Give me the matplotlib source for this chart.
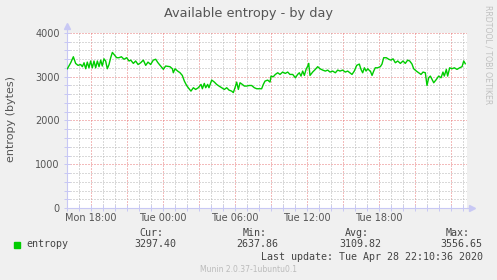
import matplotlib
matplotlib.use("Agg")
import matplotlib.pyplot as plt
from matplotlib.patches import Rectangle
from matplotlib.ticker import MultipleLocator

# hours counted from Mon 00:00, entropy in bytes
hours = [
    16.03, 16.31, 16.53, 16.72, 16.92, 17.14, 17.28, 17.42, 17.56, 17.69,
    17.83, 17.97, 18.11, 18.25, 18.39, 18.53, 18.67, 18.81, 18.94, 19.08,
    19.22, 19.36, 19.50, 19.64, 19.78, 19.92, 20.14, 20.33, 20.53, 20.75,
    20.97, 21.17, 21.31, 21.53, 21.72, 21.92, 22.14, 22.36, 22.56, 22.75,
    22.97, 23.19, 23.39, 23.58, 23.81, 24.03, 24.22,
    24.58, 24.78, 24.86, 25.00, 25.22, 25.42, 25.61, 25.78, 25.97, 26.17,
    26.33, 26.53, 26.72, 26.94, 27.17, 27.28, 27.44, 27.56, 27.72, 27.83,
    28.06, 28.28, 28.47, 28.67, 28.89, 29.11, 29.31, 29.50, 29.72, 29.86,
    30.00, 30.14, 30.28, 30.42, 30.61, 30.78, 30.97, 31.17, 31.39, 31.61,
    31.81, 32.00, 32.22, 32.36, 32.50, 32.72, 32.92,
    33.00, 33.19, 33.36, 33.56, 33.75, 33.97, 34.19, 34.39, 34.58, 34.81,
    35.03, 35.22, 35.36, 35.50, 35.64, 35.78, 35.92, 36.06, 36.14, 36.25,
    36.47, 36.69, 36.89, 37.08, 37.31, 37.53, 37.72, 37.92, 38.14, 38.36,
    38.56, 38.75, 38.97, 39.19, 39.39, 39.58, 39.75, 39.94, 40.14, 40.36,
    40.50, 40.64, 40.78, 40.92, 41.06, 41.25,
    41.28, 41.42, 41.56, 41.69, 41.89, 42.11, 42.25, 42.39, 42.61, 42.81,
    43.00, 43.17, 43.36, 43.56, 43.78, 44.00, 44.19, 44.39, 44.56, 44.75,
    44.89, 45.11, 45.31, 45.50, 45.67, 45.86, 46.00, 46.14, 46.28, 46.42,
    46.56, 46.78, 46.97, 47.17, 47.33, 47.44, 47.61, 47.72, 47.89, 48.08,
    48.28, 48.50, 48.72, 48.92, 49.06, 49.19,
]
entropy = [
    3183, 3320, 3457, 3305, 3260, 3280, 3230, 3320, 3183, 3335,
    3205, 3360, 3205, 3360, 3205, 3360, 3230, 3380, 3245, 3410,
    3360, 3183, 3280, 3435, 3556, 3510, 3435, 3435, 3457, 3400,
    3435, 3360, 3380, 3305, 3360, 3280, 3320, 3380, 3260, 3335,
    3280, 3380, 3400, 3320, 3245, 3170, 3245,
    3230, 3183, 3091, 3183, 3130, 3091, 3030, 2900, 2800, 2726,
    2672, 2749, 2710, 2749, 2825, 2726, 2848, 2749, 2825, 2749,
    2924, 2878, 2825, 2787, 2749, 2710, 2749, 2695, 2672, 2638,
    2749, 2878, 2710, 2863, 2825, 2787, 2787, 2800, 2800, 2749,
    2726, 2726, 2726, 2825, 2900, 2924, 2878,
    3015, 3000, 3053, 3091, 3053, 3107, 3076, 3107, 3053, 3053,
    2977, 3053, 3091, 3015, 3130, 3030, 3168, 3244, 3305, 3030,
    3107, 3168, 3230, 3183, 3152, 3130, 3152, 3107, 3130, 3091,
    3152, 3130, 3152, 3107, 3130, 3091, 3053, 3130, 3260, 3290,
    3168, 3091, 3205, 3130, 3183, 3130,
    3130, 3030, 3130, 3205, 3205, 3230, 3290, 3435, 3435, 3400,
    3380, 3410, 3320, 3360, 3305, 3360, 3305, 3380, 3360, 3290,
    3183, 3130, 3091, 3053, 3107, 3091, 2800, 2977, 3015, 2939,
    2863, 2939, 3015, 2977, 3107, 3015, 3168, 3015, 3205, 3183,
    3205, 3168, 3205, 3230, 3360, 3297,
]

day_ticks = [18, 24, 30, 36, 42]
day_labels = ["Mon 18:00", "Tue 00:00", "Tue 06:00", "Tue 12:00", "Tue 18:00"]
stats_head = ["Cur:", "Min:", "Avg:", "Max:"]
stats_vals = ["3297.40", "2637.86", "3109.82", "3556.65"]

W, H = 497, 280
BG = "#F0F0F0"
TXT = "#555555"
AXC = "#C8C8F4"
GREEN = "#00CC00"

fig = plt.figure(figsize=(W / 100, H / 100), dpi=100, facecolor=BG)
ax = fig.add_axes([66.7 / W, 72 / H, 400 / W, 175 / H])
ax.set_facecolor("white")

ax.plot(hours, entropy, color=GREEN, lw=1.0, zorder=3)

ax.set_xlim(15.975, 49.308)
ax.set_ylim(0, 4000)

# grid: red dotted every 3h / 1000, grey dotted every 1h / 200
ax.xaxis.set_major_locator(MultipleLocator(3))
ax.xaxis.set_minor_locator(MultipleLocator(1))
ax.yaxis.set_major_locator(MultipleLocator(1000))
ax.yaxis.set_minor_locator(MultipleLocator(200))
ax.grid(which="minor", color="#B4B4B4", ls=(0, (1, 2)), lw=0.72)
ax.grid(which="major", color="#E87878", ls=(0, (1, 2)), lw=0.72)
ax.set_axisbelow(True)

ax.set_xticklabels([])
for t, lab in zip(day_ticks, day_labels):
    ax.text(t, -220, lab, ha="center", va="center", fontsize=7, color=TXT)

ax.tick_params(which="both", direction="inout", color=AXC, width=0.72,
               length=4, labelsize=7, labelcolor=TXT)
ax.tick_params(axis="y", pad=3)

for s in ["top", "right"]:
    ax.spines[s].set_visible(False)
for s in ["left", "bottom"]:
    ax.spines[s].set_color(AXC)
    ax.spines[s].set_linewidth(0.8)

# munin style arrow heads on the axes
ax.plot([0, 0], [1.0, 1.035], color=AXC, lw=0.8, transform=ax.transAxes, clip_on=False)
ax.plot([0], [1.04], marker="^", ms=4, color=AXC, transform=ax.transAxes, clip_on=False)
ax.plot([1.0, 1.012], [0, 0], color=AXC, lw=0.8, transform=ax.transAxes, clip_on=False)
ax.plot([1.014], [0], marker=">", ms=4, color=AXC, transform=ax.transAxes, clip_on=False)

fig.text(248 / W, 1 - 13 / H, "Available entropy - by day", ha="center", va="center",
         fontsize=9.3, color=TXT)
fig.text(11 / W, 1 - 119 / H, "entropy (bytes)", rotation=90, ha="center", va="center",
         fontsize=8, color=TXT)
fig.text(488 / W, 1 - 5 / H, "RRDTOOL / TOBI OETIKER", rotation=270, ha="center", va="top",
         fontsize=5.6, color="#C0C0C0")

# legend block
mono = dict(family="DejaVu Sans Mono", fontsize=7.2, color="#444444", va="center")
head_x = [163.5, 267, 368.5, 470]
val_x = [176, 278.5, 381, 482.5]
for x, s in zip(head_x, stats_head):
    fig.text(x / W, 1 - 232.7 / H, s, ha="right", **mono)
for x, s in zip(val_x, stats_vals):
    fig.text(x / W, 1 - 244.3 / H, s, ha="right", **mono)
fig.add_artist(Rectangle((14 / W, 1 - 247.5 / H), 6 / W, 6 / H, color=GREEN,
                         transform=fig.transFigure))
fig.text(26 / W, 1 - 244.3 / H, "entropy", ha="left", **mono)
fig.text(483 / W, 1 - 256.7 / H, "Last update: Tue Apr 28 22:10:36 2020", ha="right", **mono)
fig.text(248 / W, 1 - 269.3 / H, "Munin 2.0.37-1ubuntu0.1", ha="center", va="center",
         fontsize=5.5, color="#BBBBBB")

fig.savefig("out.png", dpi=100, facecolor=BG)
